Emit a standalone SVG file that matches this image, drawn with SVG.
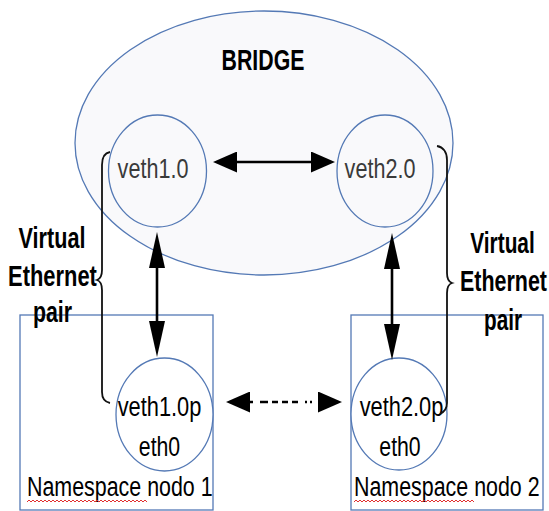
<svg xmlns="http://www.w3.org/2000/svg" width="549" height="511" viewBox="0 0 549 511">
<style>
.shape{stroke:#5479b5;stroke-width:1.3}
.lbl{font-family:"Liberation Sans",Arial,sans-serif;fill:#000}
.mid{text-anchor:middle}
.gray{fill:#3a3a3a}
.bold{font-weight:bold}
.conn{stroke:#000;stroke-width:2.6;fill:none}
.brace{stroke:#111;stroke-width:1.8;fill:none}
.squig{stroke:#e03030;stroke-width:1;fill:none}
</style>
<defs>
<marker id="ah" markerUnits="userSpaceOnUse" viewBox="0 0 24 21" refX="0" refY="10.5" markerWidth="24" markerHeight="21" orient="auto-start-reverse">
<path d="M0,0 L24,10.5 L0,21 z" fill="#000"/>
</marker>
<marker id="av" markerUnits="userSpaceOnUse" viewBox="0 0 36 16" refX="0" refY="8" markerWidth="36" markerHeight="16" orient="auto-start-reverse">
<path d="M0,0 L36,8 L0,16 z" fill="#000"/>
</marker>
<path id="sq" d="m0,0 l2,-2 l2,2 l2,-2 l2,2 l2,-2 l2,2 l2,-2 l2,2 l2,-2 l2,2 l2,-2 l2,2 l2,-2 l2,2 l2,-2 l2,2 l2,-2 l2,2 l2,-2 l2,2 l2,-2 l2,2 l2,-2 l2,2 l2,-2 l2,2 l2,-2 l2,2 l2,-2 l2,2 l2,-2 l2,2 l2,-2 l2,2 l2,-2 l2,2 l2,-2 l2,2 l2,-2 l2,2 l2,-2 l2,2 l2,-2 l2,2 l2,-2 l2,2 l2,-2 l2,2 l2,-2 l2,2 l2,-2 l2,2 l2,-2 l2,2 l2,-2 l2,2 l2,-2 l2,2 l2,-2 l2,2"/>
</defs>
<rect width="549" height="511" fill="#fff"/>
<g id="bridge">
<ellipse class="shape" cx="264" cy="143" rx="189" ry="132" fill="#f9f9fb"/>
<text class="lbl bold mid" transform="translate(263,70) scale(0.71,1)" font-size="30">BRIDGE</text>
</g>
<g id="ns1">
<rect class="shape" x="20" y="315" width="193" height="195" fill="#fff"/>
<text class="lbl" transform="translate(27,496) scale(0.765,1)" font-size="28">Namespace nodo 1</text>
<use href="#sq" x="27" y="502" class="squig"/>
</g>
<g id="ns2">
<rect class="shape" x="351" y="315" width="192" height="195" fill="#fff"/>
<text class="lbl" transform="translate(354,496) scale(0.765,1)" font-size="28">Namespace nodo 2</text>
<use href="#sq" x="354" y="502" class="squig"/>
</g>
<g id="veth1.0">
<ellipse class="shape" cx="157.5" cy="171" rx="49" ry="56" fill="none"/>
<text class="lbl gray mid" transform="translate(153,178) scale(0.8,1)" font-size="27">veth1.0</text>
</g>
<g id="veth2.0">
<ellipse class="shape" cx="385" cy="171" rx="48" ry="56" fill="none"/>
<text class="lbl gray mid" transform="translate(380,178) scale(0.8,1)" font-size="27">veth2.0</text>
</g>
<g id="veth1.0p">
<ellipse class="shape" cx="164.5" cy="414.5" rx="48.5" ry="56.5" fill="#fff"/>
<text class="lbl mid" transform="translate(159.5,416) scale(0.78,1)" font-size="28">veth1.0p</text>
<text class="lbl mid" transform="translate(159.5,456) scale(0.76,1)" font-size="28">eth0</text>
</g>
<g id="veth2.0p">
<ellipse class="shape" cx="399" cy="414" rx="48" ry="56" fill="#fff"/>
<text class="lbl mid" transform="translate(401.5,416) scale(0.78,1)" font-size="28">veth2.0p</text>
<text class="lbl mid" transform="translate(400,456) scale(0.76,1)" font-size="28">eth0</text>
</g>
<g id="pair1">
<path class="brace" d="M110,152 C104,153 102,158 102,165 L102,270 C102,276 100,279 97,280 C100,281 102,284 102,290 L102,392 C102,398 105,402 110,403"/>
<text class="lbl bold mid" transform="translate(52,248) scale(0.745,1)" font-size="29">Virtual</text>
<text class="lbl bold mid" transform="translate(52.5,286) scale(0.755,1)" font-size="29">Ethernet</text>
<text class="lbl bold mid" transform="translate(52.5,322) scale(0.735,1)" font-size="29">pair</text>
</g>
<g id="pair2">
<path class="brace" d="M437,146 C443,147 447,152 447,160 L447,273 C447,279 449,282 452,283 C449,284 447,287 447,293 L447,403 C447,408 444,412 440,414"/>
<text class="lbl bold mid" transform="translate(502.5,253) scale(0.72,1)" font-size="29">Virtual</text>
<text class="lbl bold mid" transform="translate(503.5,291) scale(0.74,1)" font-size="29">Ethernet</text>
<text class="lbl bold mid" transform="translate(503,330) scale(0.715,1)" font-size="29">pair</text>
</g>
<g id="connectors">
<line class="conn" x1="237" y1="162" x2="311" y2="162" marker-start="url(#ah)" marker-end="url(#ah)"/>
<line class="conn" x1="157" y1="268" x2="157" y2="321" marker-start="url(#av)" marker-end="url(#av)"/>
<line class="conn" x1="392" y1="269" x2="392" y2="324" marker-start="url(#av)" marker-end="url(#av)"/>
<line class="conn" x1="250" y1="402" x2="318" y2="402" stroke-dasharray="3,7,8,4,6,4,6,4,6,7,2,3,2,20" marker-start="url(#ah)" marker-end="url(#ah)"/>
</g>
</svg>
